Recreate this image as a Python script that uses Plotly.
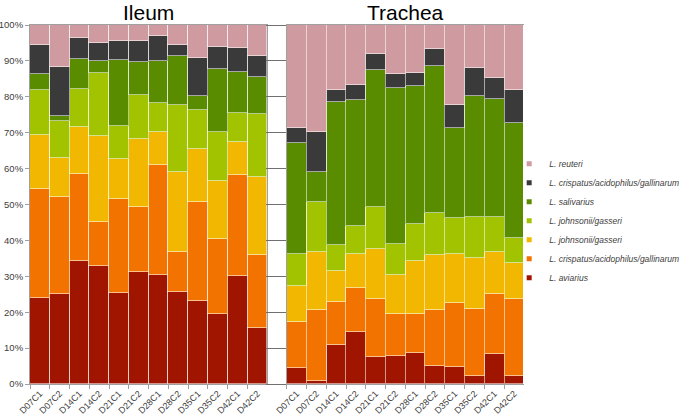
import plotly.graph_objects as go

samples = ["D07C1", "D07C2", "D14C1", "D14C2", "D21C1", "D21C2",
           "D28C1", "D28C2", "D35C1", "D35C2", "D42C1", "D42C2"]

species = ["L. aviarius",
           "L. crispatus/acidophilus/gallinarum",
           "L. johnsonii/gasseri",
           "L. johnsonii/gasseri",
           "L. salivarius",
           "L. crispatus/acidophilus/gallinarum",
           "L. reuteri"]

colors = ["#A01500", "#F37300", "#F2B700", "#A2C400", "#5A8C00", "#3A3A3A", "#CF9BA0"]

# Ileum (% per sample, bottom to top)
ileum_aviarius   = [24.0, 25.1, 34.2, 32.8, 25.3, 31.2, 30.3, 25.6, 23.1, 19.5, 30.0, 15.6]
ileum_crisp_or   = [30.4, 27.0, 24.3, 12.3, 26.2, 18.0, 30.7, 11.2, 27.5, 21.0, 28.3, 20.4]
ileum_john_yel   = [14.9, 10.9, 13.2, 24.1, 11.2, 19.0, 9.2, 22.2, 14.9, 16.0, 9.1, 21.7]
ileum_john_grn   = [12.6, 10.2, 10.4, 17.5, 9.1, 12.3, 8.0, 18.7, 10.8, 13.6, 8.0, 17.6]
ileum_salivarius = [4.5, 1.5, 8.5, 3.4, 18.5, 9.1, 11.9, 13.7, 4.0, 17.6, 11.4, 10.3]
ileum_crisp_dk   = [8.1, 13.7, 5.9, 5.0, 5.3, 6.0, 6.7, 2.9, 10.6, 6.3, 6.8, 5.9]
ileum_reuteri    = [5.5, 11.6, 3.5, 4.9, 4.4, 4.4, 3.2, 5.7, 9.1, 6.0, 6.4, 8.5]

# Trachea
trachea_aviarius   = [4.5, 0.8, 10.9, 14.5, 7.6, 7.8, 8.5, 5.0, 4.7, 2.3, 8.4, 2.2]
trachea_crisp_or   = [12.8, 19.9, 11.9, 12.2, 16.2, 11.8, 10.9, 15.7, 17.8, 18.7, 16.6, 21.5]
trachea_john_yel   = [10.0, 16.2, 8.8, 9.4, 13.8, 10.9, 14.9, 15.3, 13.8, 14.2, 11.9, 9.9]
trachea_john_grn   = [9.0, 13.7, 7.2, 8.0, 11.7, 8.4, 10.2, 11.5, 10.0, 11.4, 9.7, 7.1]
trachea_salivarius = [30.7, 8.5, 39.8, 35.1, 38.2, 43.6, 38.4, 41.1, 24.9, 33.6, 32.9, 32.1]
trachea_crisp_dk   = [4.2, 11.2, 3.4, 4.2, 4.3, 3.8, 3.7, 4.7, 6.5, 7.7, 5.6, 9.1]
trachea_reuteri    = [28.8, 29.7, 18.0, 16.6, 8.2, 13.7, 13.4, 6.7, 22.3, 12.1, 14.9, 18.1]

ileum = [ileum_aviarius, ileum_crisp_or, ileum_john_yel, ileum_john_grn,
         ileum_salivarius, ileum_crisp_dk, ileum_reuteri]
trachea = [trachea_aviarius, trachea_crisp_or, trachea_john_yel, trachea_john_grn,
           trachea_salivarius, trachea_crisp_dk, trachea_reuteri]

FONT = "Liberation Sans, Arial, sans-serif"

fig = go.Figure()
edge = dict(color="rgba(255,255,255,0.55)", width=1)
for i, name in enumerate(species):
    fig.add_trace(go.Bar(x=samples, y=ileum[i], name=name, marker=dict(color=colors[i], line=edge),
                         xaxis="x", yaxis="y", showlegend=False))
for i, name in enumerate(species):
    fig.add_trace(go.Bar(x=samples, y=trachea[i], name=name, marker=dict(color=colors[i], line=edge),
                         xaxis="x2", yaxis="y2", showlegend=False))
# legend entries (small square swatches)
for i, name in enumerate(species):
    fig.add_trace(go.Scatter(x=[None], y=[None], mode="markers", name="<i>" + name + "</i>",
                             marker=dict(symbol="square", size=5, color=colors[i]),
                             xaxis="x", yaxis="y", showlegend=True))

axcol = "#A0A0A0"
tickfont = dict(family=FONT, size=9, color="#404040")
xcommon = dict(type="category", showline=True, linecolor=axcol, mirror=True, ticks="outside",
               tickson="boundaries", ticklen=4, tickcolor=axcol, tickangle=-45,
               tickfont=tickfont, showgrid=False, zeroline=False, automargin=False)
fig.update_layout(
    width=696, height=416,
    margin=dict(l=30, r=158, t=25, b=32),
    paper_bgcolor="white", plot_bgcolor="white",
    barmode="stack", bargap=0,
    font=dict(family=FONT),
    xaxis=dict(domain=[0, 0.4803], anchor="y", **xcommon),
    xaxis2=dict(domain=[0.5197, 1], anchor="y2", **xcommon),
    yaxis=dict(range=[0, 100], dtick=10, ticksuffix="%", showline=True, linecolor=axcol,
               mirror=True, ticks="outside", ticklen=4, tickcolor=axcol, showgrid=False,
               zeroline=False, automargin=False,
               tickfont=dict(family=FONT, size=9.5, color="#404040"), anchor="x"),
    yaxis2=dict(range=[0, 100], dtick=10, showticklabels=False, showline=True, linecolor=axcol,
                ticks="outside", ticklen=20, tickcolor="#707070", showgrid=False,
                zeroline=False, automargin=False, anchor="x2"),
    legend=dict(x=0.97, xanchor="left", y=0.455, yanchor="middle", traceorder="reversed",
                font=dict(family=FONT, size=8.5, color="#404040"),
                itemwidth=30, tracegroupgap=0, bgcolor="rgba(0,0,0,0)"),
    annotations=[
        dict(text="Ileum", x=0.24, y=1.0, xref="paper", yref="paper", xanchor="center",
             yanchor="bottom", yshift=-1, showarrow=False,
             font=dict(family=FONT, size=21, color="black")),
        dict(text="Trachea", x=0.76, y=1.0, xref="paper", yref="paper", xanchor="center",
             yanchor="bottom", yshift=-1, showarrow=False,
             font=dict(family=FONT, size=21, color="black")),
    ],
)
fig.write_html("out.html", config={"displayModeBar": False},
               post_script="document.body.style.margin='0';document.body.style.overflow='hidden';")
